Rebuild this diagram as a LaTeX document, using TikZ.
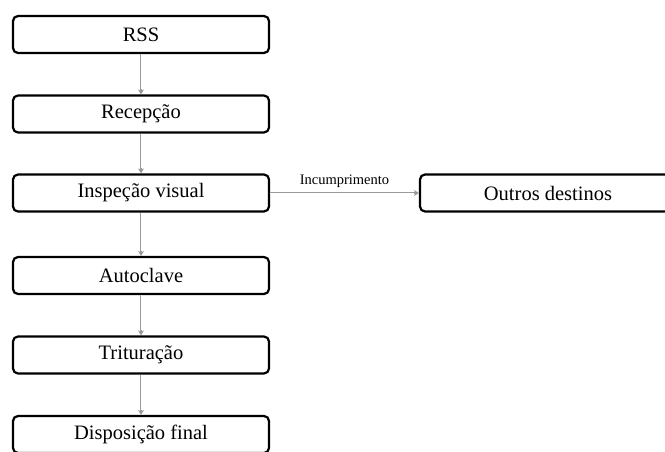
\documentclass[tikz,border=0pt]{standalone}
\usepackage{fontspec}
\setmainfont{Liberation Serif}
\usetikzlibrary{arrows.meta}
\tikzset{
 stage/.style={draw,rounded corners=5pt,line width=2.2pt,minimum width=256pt,minimum height=37pt,inner sep=0,font=\fontsize{20.5}{22}\selectfont},
 flow/.style={draw=gray!80,line width=2.6pt,-{Stealth[length=5pt,width=6pt]},postaction={draw=white,line width=1pt,-,shorten >=5pt}},
 flowlabel/.style={font=\fontsize{14.5}{16}\selectfont}
}
\begin{document}
\begin{tikzpicture}[x=1pt,y=-1pt]
\path[use as bounding box] (0,0) rectangle (665,452);
\node[stage] (rss) at (141,34.5) {RSS};
\node[stage] (recep) at (141,114) {Recepção};
\node[stage] (insp) at (141,193) {Inspeção visual};
\node[stage] (outros) at (548,193) {Outros destinos};
\node[stage] (auto) at (141,275.5) {Autoclave};
\node[stage] (trit) at (141,355) {Trituração};
\node[stage] (disp) at (141,434.5) {Disposição final};
\draw[flow] (rss) -- (recep);
\draw[flow] (recep) -- (insp);
\draw[flow] (insp) -- (auto);
\draw[flow] (auto) -- (trit);
\draw[flow] (trit) -- (disp);
\draw[flow] (insp) -- node[flowlabel,above=1pt] {Incumprimento} (outros);
\end{tikzpicture}
\end{document}
